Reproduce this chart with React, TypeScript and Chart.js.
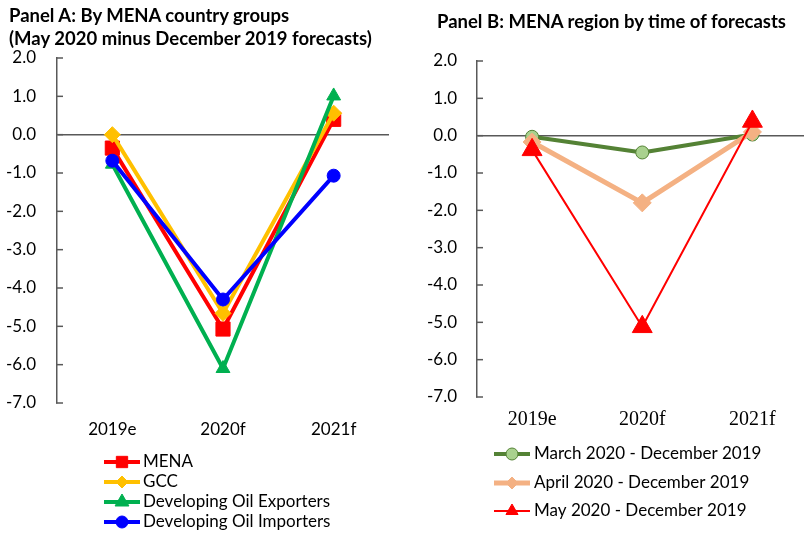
import React, { useEffect, useRef } from 'react';
import { Chart, registerables } from 'chart.js';
import { drawPoint } from 'chart.js/helpers';

Chart.register(...registerables);

// ---------- data ----------
const categories = ['2019e', '2020f', '2021f'];

const panelALabels = ['MENA', 'GCC', 'Developing Oil Exporters', 'Developing Oil Importers'];
const menaValues = [-0.35, -5.07, 0.4];
const gccValues = [0.0, -4.66, 0.56];
const oilExportersValues = [-0.77, -6.1, 1.01];
const oilImportersValues = [-0.68, -4.3, -1.07];

const panelBLabels = ['March 2020 - December 2019', 'April 2020 - December 2019', 'May 2020 - December 2019'];
const marchValues = [-0.03, -0.45, 0.03];
const aprilValues = [-0.17, -1.8, 0.1];
const mayValues = [-0.38, -5.12, 0.38];

const yMin = -7;
const yMax = 2;
const yStep = 1;

const titleA = ['Panel A: By MENA country groups', '(May 2020 minus December 2019 forecasts)'];
const titleB = 'Panel B: MENA region by time of forecasts';

// ---------- styles ----------
const AXIS = '#595959';
const TEXT = '#000000';
const SANS = 'Lato, "Open Sans", sans-serif';
const SERIF = '"Liberation Serif", "Times New Roman", serif';

function insideTicksPlugin() {
  return {
    id: 'insideTicks',
    beforeDatasetsDraw(chart: any) {
      const s = chart.scales.y;
      const ctx = chart.ctx;
      ctx.save();
      ctx.strokeStyle = AXIS;
      ctx.lineWidth = 1.5;
      s.ticks.forEach((t: any) => {
        const y = s.getPixelForValue(t.value);
        ctx.beginPath();
        ctx.moveTo(s.right - 1, y);
        ctx.lineTo(s.right + 6, y);
        ctx.stroke();
      });
      ctx.restore();
    },
  };
}

function rowLegendPlugin(cfg: { x1: number; x2: number; textX: number; rows: number[]; radii: number[]; font: string }) {
  return {
    id: 'rowLegend',
    afterDraw(chart: any) {
      const ctx = chart.ctx;
      chart.data.datasets.forEach((ds: any, i: number) => {
        const y = cfg.rows[i];
        ctx.save();
        ctx.strokeStyle = ds.borderColor;
        ctx.lineWidth = ds.borderWidth;
        ctx.beginPath();
        ctx.moveTo(cfg.x1, y);
        ctx.lineTo(cfg.x2, y);
        ctx.stroke();
        ctx.fillStyle = ds.pointBackgroundColor;
        ctx.strokeStyle = ds.pointBorderColor;
        ctx.lineWidth = ds.pointBorderWidth;
        drawPoint(ctx, { pointStyle: ds.pointStyle, radius: cfg.radii[i], rotation: 0, borderWidth: ds.pointBorderWidth } as any, (cfg.x1 + cfg.x2) / 2, y);
        ctx.fillStyle = TEXT;
        ctx.font = cfg.font;
        ctx.textAlign = 'left';
        ctx.textBaseline = 'middle';
        ctx.fillText(ds.label, cfg.textX, y);
        ctx.restore();
      });
    },
  };
}

function yScale(width: number, padding: number) {
  return {
    min: yMin,
    max: yMax,
    ticks: {
      stepSize: yStep,
      padding,
      color: TEXT,
      font: { family: SANS, size: 17 },
      callback: (v: any) => Number(v).toFixed(1),
    },
    grid: {
      drawTicks: false,
      lineWidth: 1.5,
      color: (c: any) => (c.tick && c.tick.value === 0 ? AXIS : 'rgba(0,0,0,0)'),
    },
    border: { display: true, color: AXIS, width: 1.5 },
    afterFit: (s: any) => {
      s.width = width;
    },
  };
}

function line(label: string, data: number[], color: string, width: number, style: string, radius: number, fill?: string, border?: string, order = 0) {
  return {
    label,
    data,
    borderColor: color,
    borderWidth: width,
    backgroundColor: fill || color,
    pointStyle: style,
    pointRadius: radius,
    pointBackgroundColor: fill || color,
    pointBorderColor: border || fill || color,
    pointBorderWidth: 1,
    borderJoinStyle: 'round',
    tension: 0,
    order,
  };
}

export default function App() {
  const refA = useRef<HTMLCanvasElement>(null);
  const refB = useRef<HTMLCanvasElement>(null);

  useEffect(() => {
    document.documentElement.style.overflow = 'hidden';
    document.body.style.overflow = 'hidden';

    const chartA = new Chart(refA.current as HTMLCanvasElement, {
      type: 'line',
      data: {
        labels: categories,
        datasets: [
          line(panelALabels[0], menaValues, '#FF0000', 4, 'rect', 10, undefined, undefined, 4),
          line(panelALabels[1], gccValues, '#FFC000', 4, 'rectRot', 8, undefined, undefined, 3),
          line(panelALabels[2], oilExportersValues, '#00B050', 4, 'triangle', 8, undefined, undefined, 2),
          line(panelALabels[3], oilImportersValues, '#0000FF', 4, 'circle', 6.5, undefined, undefined, 1),
        ] as any,
      },
      options: {
        responsive: false,
        animation: false,
        devicePixelRatio: 1,
        layout: { padding: { left: 0, right: 5, top: 58, bottom: 91 } },
        plugins: { legend: { display: false }, tooltip: { enabled: false } },
        scales: {
          x: {
            offset: true,
            grid: { display: false, drawTicks: false },
            border: { display: false },
            ticks: { padding: 16, color: TEXT, font: { family: SANS, size: 17 } },
            afterFit: (s: any) => {
              s.height = 40;
            },
          },
          y: yScale(57, 21),
        } as any,
      },
      plugins: [
        insideTicksPlugin(),
        rowLegendPlugin({ x1: 104, x2: 140, textX: 143, rows: [462, 482, 502, 522], radii: [8, 6, 8, 6], font: `17px ${SANS}` }),
      ],
    });

    const chartB = new Chart(refB.current as HTMLCanvasElement, {
      type: 'line',
      data: {
        labels: categories,
        datasets: [
          line(panelBLabels[0], marchValues, '#548235', 4, 'circle', 6.5, '#A9D18E', '#548235', 3),
          line(panelBLabels[1], aprilValues, '#F4B183', 5, 'rectRot', 9, '#F4B183', '#F4B183', 2),
          line(panelBLabels[2], mayValues, '#FF0000', 2, 'triangle', 11.5, '#FF0000', '#FF0000', 1),
        ] as any,
      },
      options: {
        responsive: false,
        animation: false,
        devicePixelRatio: 1,
        layout: { padding: { left: 0, right: 4, top: 61, bottom: 107 } },
        plugins: { legend: { display: false }, tooltip: { enabled: false } },
        scales: {
          x: {
            offset: true,
            grid: { display: false, drawTicks: false },
            border: { display: false },
            ticks: { padding: 11, color: TEXT, font: { family: SERIF, size: 20 } },
            afterFit: (s: any) => {
              s.height = 30;
            },
          },
          y: yScale(77, 20),
        } as any,
      },
      plugins: [
        insideTicksPlugin(),
        rowLegendPlugin({ x1: 94, x2: 130, textX: 134, rows: [454, 483, 511], radii: [6, 6, 7], font: `17px ${SANS}` }),
      ],
    });

    return () => {
      chartA.destroy();
      chartB.destroy();
    };
  }, []);

  const titleStyle: React.CSSProperties = {
    position: 'absolute',
    fontFamily: SANS,
    fontWeight: 'bold',
    fontSize: 18.5,
    lineHeight: '23px',
    color: TEXT,
    whiteSpace: 'nowrap',
  };

  return (
    <div style={{ position: 'fixed', left: 0, top: 0, width: 820, height: 534, overflow: 'hidden', background: '#fff' }}>
      <canvas ref={refA} width={400} height={534} style={{ position: 'absolute', left: 0, top: 0, width: 400, height: 534 }} />
      <canvas ref={refB} width={420} height={534} style={{ position: 'absolute', left: 400, top: 0, width: 420, height: 534 }} />
      <div style={{ ...titleStyle, left: 9, top: 4 }}>
        {titleA[0]}
        <br />
        {titleA[1]}
      </div>
      <div style={{ ...titleStyle, left: 437, top: 10 }}>{titleB}</div>
    </div>
  );
}
